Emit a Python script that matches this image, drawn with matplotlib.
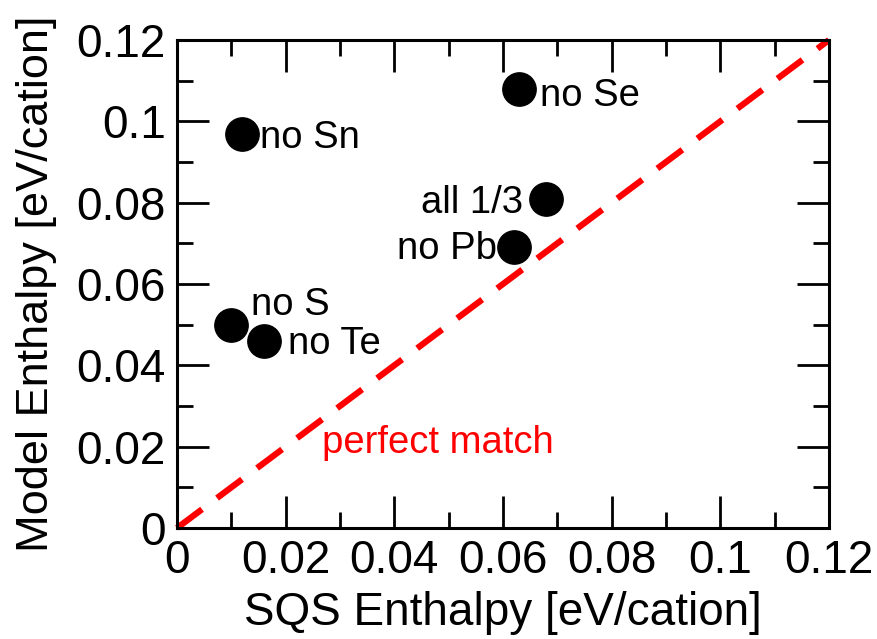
import matplotlib
matplotlib.use("Agg")
import matplotlib.pyplot as plt
from matplotlib.ticker import MultipleLocator, FuncFormatter

plt.rcParams['font.family'] = ['Liberation Sans', 'DejaVu Sans']

# SQS vs. model mixing enthalpies (eV/cation)
labels = ["no Se", "no Sn", "all 1/3", "no Pb", "no S", "no Te"]
sqs_enthalpy = [0.063, 0.012, 0.068, 0.062, 0.010, 0.016]
model_enthalpy = [0.108, 0.097, 0.081, 0.069, 0.050, 0.046]

# label offsets in points and alignment
label_offsets = [(15, -5), (13, -3), (-17, -3), (-12, -1.5), (14, 14), (17, -2)]
label_ha = ["left", "left", "right", "right", "left", "left"]

diag = [0.0, 0.12]

fig = plt.figure(figsize=(8.78, 6.39), dpi=100)
ax = fig.add_axes([0.2016, 0.1737, 0.7426, 0.7637])

ax.plot(diag, diag, color="red", lw=4.5, dashes=(5, 3), zorder=2, clip_on=False)
ax.plot(sqs_enthalpy, model_enthalpy, "o", color="black", markersize=24, zorder=3)

for lab, x, y, off, ha in zip(labels, sqs_enthalpy, model_enthalpy, label_offsets, label_ha):
    ax.annotate(lab, (x, y), xytext=off, textcoords="offset points",
                ha=ha, va="center", fontsize=27.5, color="black")

ax.text(0.0267, 0.0209, "perfect match", color="red", fontsize=27.5, ha="left", va="center")

ax.set_xlim(0, 0.12)
ax.set_ylim(0, 0.12)

fmt = FuncFormatter(lambda v, p: ("%g" % round(v, 3)))
for axis in (ax.xaxis, ax.yaxis):
    axis.set_major_locator(MultipleLocator(0.02))
    axis.set_minor_locator(MultipleLocator(0.01))
    axis.set_major_formatter(fmt)

ax.tick_params(which="both", direction="in", top=True, right=True, width=2)
ax.tick_params(which="major", length=23, labelsize=33, pad=8)
ax.tick_params(which="minor", length=11.5)
for s in ax.spines.values():
    s.set_linewidth(2.2)

ax.set_xlabel("SQS Enthalpy [eV/cation]", fontsize=33, labelpad=6)
ax.set_ylabel("Model Enthalpy [eV/cation]", fontsize=32.5, labelpad=14)

fig.savefig("out.png", dpi=100)
